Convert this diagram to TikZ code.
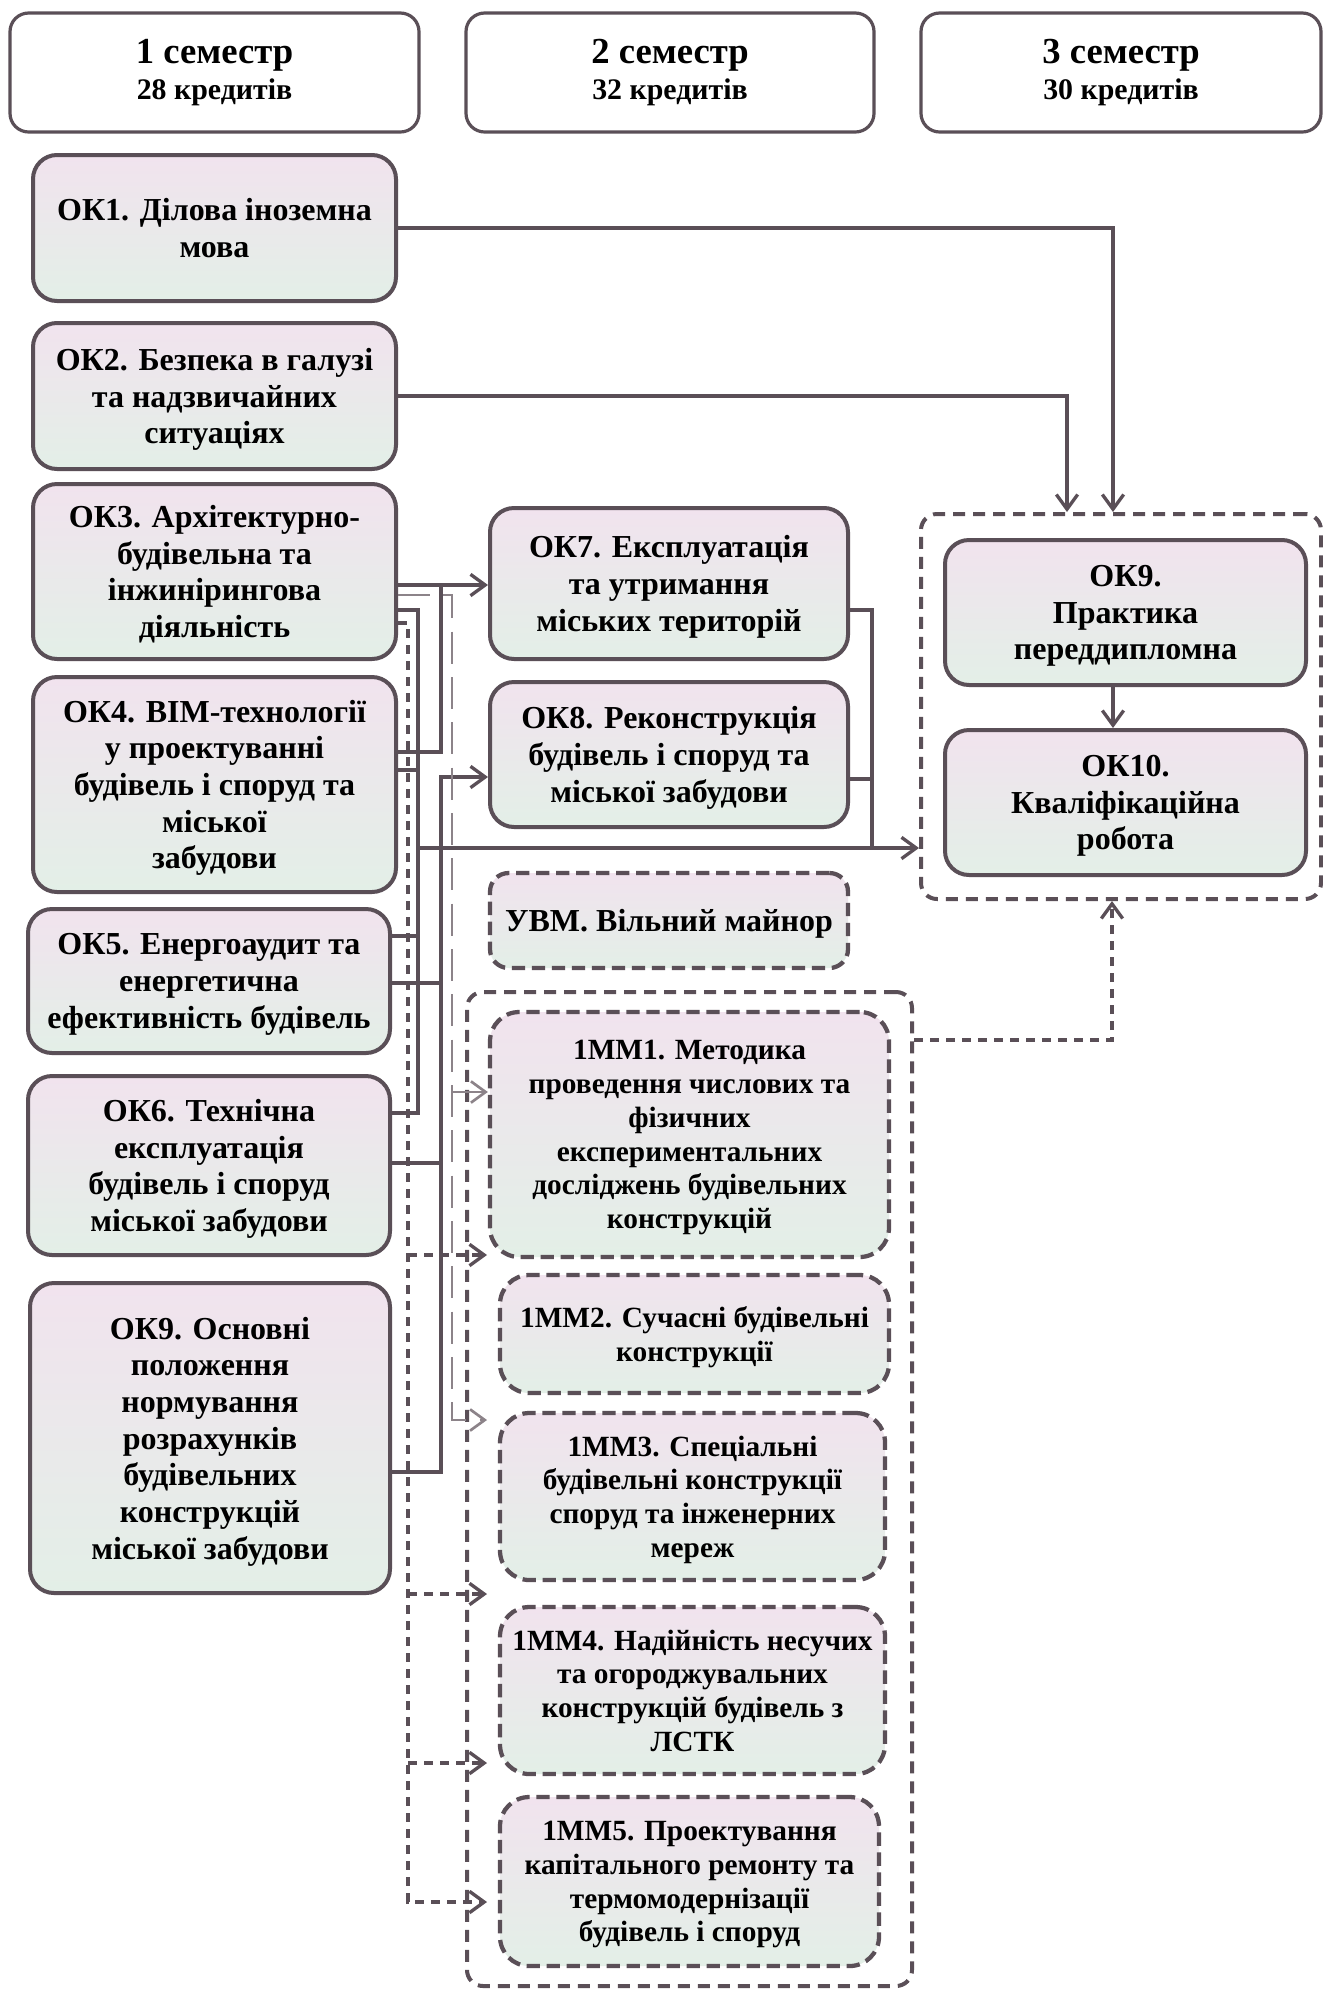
\documentclass[tikz,border=0pt]{standalone}
\usepackage{fontspec}
\setmainfont{Liberation Serif}
\usetikzlibrary{arrows.meta,fit}
\definecolor{ln}{HTML}{5A4F57}
\definecolor{lnl}{HTML}{8C8389}
\definecolor{fa}{HTML}{F1E3EE}
\definecolor{fb}{HTML}{E3EFE7}
\tikzset{
 box/.style={draw=ln, line width=3pt, rounded corners=18pt, top color=fa, bottom color=fb, inner sep=0pt, align=center, text depth=-12pt, font=\fontsize{24}{27.5}\selectfont\bfseries},
 hdr/.style={draw=ln, line width=2.4pt, rounded corners=14pt, fill=white, inner sep=0pt, align=center, font=\bfseries},
 mmbox/.style={draw=ln, line width=3.2pt, dash pattern=on 10pt off 5pt, rounded corners=22pt, top color=fa, bottom color=fb, inner sep=0pt, align=center, text depth=-6pt, font=\fontsize{22}{25.3}\selectfont\bfseries},
 grp/.style={draw=ln, line width=3pt, dash pattern=on 9pt off 6pt, rounded corners=12pt, inner sep=0pt},
 wire/.style={draw=ln, line width=2.5pt},
 arr/.style={wire, -{Straight Barb[length=11pt,width=16pt]}},
 dwire/.style={wire, dash pattern=on 7pt off 5pt},
 darr/.style={dwire, -{Straight Barb[length=11pt,width=16pt]}},
 lwire/.style={draw=lnl, line width=2pt, dash pattern=on 24pt off 10pt},
 larr/.style={lwire, -{Straight Barb[length=11pt,width=16pt]}},
}
\begin{document}
\begin{tikzpicture}[x=0.75pt,y=-0.75pt]
\useasboundingbox[fill=white] (0,0) rectangle (1322,1992);
% headers
\node[hdr, minimum width=306.75pt, minimum height=89.25pt] (h1) at (214.5,72.5) {\fontsize{27.5}{30}\selectfont 1 семестр\\[5pt]\fontsize{22.4}{26}\selectfont 28 кредитів};
\node[hdr, minimum width=306pt, minimum height=89.25pt] (h2) at (670,72.5) {\fontsize{27.5}{30}\selectfont 2 семестр\\[5pt]\fontsize{22.4}{26}\selectfont 32 кредитів};
\node[hdr, minimum width=300pt, minimum height=89.25pt] (h3) at (1121,72.5) {\fontsize{27.5}{30}\selectfont 3 семестр\\[5pt]\fontsize{22.4}{26}\selectfont 30 кредитів};
% left column
\node[box, minimum width=272.25pt, minimum height=109.5pt] (ok1) at (214.5,228) {ОК1. Ділова іноземна\\мова};
\node[box, minimum width=272.25pt, minimum height=109.5pt] (ok2) at (214.5,396) {ОК2. Безпека в галузі\\та надзвичайних\\ситуаціях};
\node[box, minimum width=272.25pt, minimum height=131.25pt] (ok3) at (214.5,571.5) {ОК3. Архітектурно-\\будівельна та\\інжинірингова\\діяльність};
\node[box, minimum width=272.25pt, minimum height=161.25pt] (ok4) at (214.5,784.5) {ОК4. ВІМ-технології\\у проектуванні\\будівель і споруд та\\міської\\забудови};
\node[box, minimum width=271.5pt, minimum height=108pt] (ok5) at (209,981) {ОК5. Енергоаудит та\\енергетична\\ефективність будівель};
\node[box, minimum width=271.5pt, minimum height=134.25pt] (ok6) at (209,1165.5) {ОК6. Технічна\\експлуатація\\будівель і споруд\\міської забудови};
\node[box, minimum width=270pt, minimum height=232.5pt] (ok9l) at (210,1438) {ОК9. Основні\\положення\\нормування\\розрахунків\\будівельних\\конструкцій\\міської забудови};
% middle column
\node[box, minimum width=268.5pt, minimum height=113.25pt] (ok7) at (669,583.5) {ОК7. Експлуатація\\та утримання\\міських територій};
\node[box, minimum width=268.5pt, minimum height=108.75pt] (ok8) at (669,754.5) {ОК8. Реконструкція\\будівель і споруд та\\міської забудови};
\node[mmbox, font=\fontsize{24}{27.5}\selectfont\bfseries, rounded corners=14pt, minimum width=268.5pt, minimum height=71.25pt] (uvm) at (669,920.5) {УВМ. Вільний майнор};
\node[grp, fit={(467,992)(912,1986)}] (grp2) {};
\node[mmbox, minimum width=299.25pt, minimum height=183.75pt] (mm1) at (689.5,1134.5) {1ММ1. Методика\\проведення числових та\\фізичних\\експериментальних\\досліджень будівельних\\конструкцій};
\node[mmbox, minimum width=291.75pt, minimum height=88.5pt] (mm2) at (694.5,1334) {1ММ2. Сучасні будівельні\\конструкції};
\node[mmbox, minimum width=288.75pt, minimum height=125.25pt] (mm3) at (692.5,1496.5) {1ММ3. Спеціальні\\будівельні конструкції\\споруд та інженерних\\мереж};
\node[mmbox, minimum width=288.75pt, minimum height=125.25pt] (mm4) at (692.5,1690.5) {1ММ4. Надійність несучих\\та огороджувальних\\конструкцій будівель з\\ЛСТК};
\node[mmbox, minimum width=284.25pt, minimum height=126.75pt] (mm5) at (689.5,1881.5) {1ММ5. Проектування\\капітального ремонту та\\термомодернізації\\будівель і споруд};
% right column
\node[grp, fit={(921,514)(1321,899)}] (grp3) {};
\node[box, minimum width=270.75pt, minimum height=108.75pt] (ok9r) at (1125.5,612.5) {ОК9.\\Практика\\переддипломна};
\node[box, minimum width=270.75pt, minimum height=108.75pt] (ok10) at (1125.5,802.5) {ОК10.\\Кваліфікаційна\\робота};
% connectors to right group
\draw[arr] (ok1.east) -| (grp3.north -| 1113,0);
\draw[arr] (ok2.east) -| (grp3.north -| 1067,0);
\draw[arr] (ok9r.south -| 1113,0) -- (ok10.north -| 1113,0);
\draw[darr] (grp2.east |- 0,1040) -| (grp3.south -| 1112,0);
% main bus to OK10 group
\draw[wire] (ok3.east |- 0,610) -| (418,1113) -- (ok6.east |- 0,1113);
\draw[wire] (ok5.east |- 0,936) -- (418,936);
\draw[wire] (ok4.east |- 0,770) -- (418,770);
\draw[arr] (418,848) -- (grp3.west |- 0,848);
\draw[wire] (ok7.east |- 0,610) -| (872,848);
\draw[wire] (ok8.east |- 0,779) -- (872,779);
% to OK7
\draw[arr] (ok3.east |- 0,585) -- (ok7.west |- 0,585);
\draw[wire] (ok4.east |- 0,752) -| (441,585);
% to OK8
\draw[arr] (ok9l.east |- 0,1472) -| (441,777) -- (ok8.west |- 0,777);
\draw[wire] (ok5.east |- 0,983) -- (441,983);
\draw[wire] (ok6.east |- 0,1163) -- (441,1163);
% light dashed line to 1MM1, 1MM3
\draw[larr] (ok3.east |- 0,595) -| (452,1420) -- (487,1420);
\draw[larr] (452,1092) -- (mm1.west |- 0,1092);
% dark dashed bus to 1MM boxes
\draw[darr] (ok3.east |- 0,623) -| (408,1902) -- (487,1902);
\draw[darr] (408,1255) -- (487,1255);
\draw[darr] (408,1594) -- (487,1594);
\draw[darr] (408,1763) -- (487,1763);
\end{tikzpicture}
\end{document}
